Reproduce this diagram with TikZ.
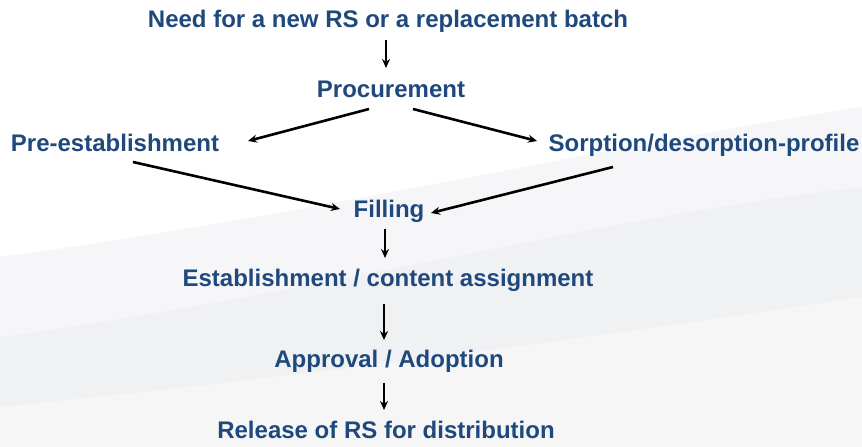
\documentclass[tikz,border=0pt]{standalone}
\usepackage{fontspec}
\setmainfont{Liberation Sans}
\usetikzlibrary{arrows.meta,positioning,calc}
\definecolor{stagetext}{RGB}{31,73,125}
\definecolor{swoosh}{RGB}{226,228,232}

\begin{document}
\begin{tikzpicture}[x=1pt,y=1pt,>=Stealth,
  stage/.style={anchor=base,inner sep=0pt,text=stagetext,
    font=\fontsize{24}{28}\selectfont\bfseries},
  flow/.style={->,line width=2.6pt,>={Stealth[length=9pt,width=8pt]}}]
  % background with the faint grey swoosh
  \fill[white] (0,0) rectangle (862,447);
  \fill[swoosh,opacity=0.3] (0,0) -- (0,190) .. controls (300,230) and (600,300) .. (862,340) -- (862,0) -- cycle;
  \fill[swoosh,opacity=0.25] (0,0) -- (0,110) .. controls (300,150) and (600,230) .. (862,260) -- (862,0) -- cycle;
  \fill[white,opacity=0.4] (0,0) -- (0,40) .. controls (300,70) and (600,110) .. (862,150) -- (862,0) -- cycle;
  \useasboundingbox (0,0) rectangle (862,447);

  % stages
  \node[stage] (need) at (388,419) {Need for a new RS or a replacement batch};
  \node[stage] (proc) at (391,349) {Procurement};
  \node[stage] (pre)  at (115,295) {Pre-establishment};
  \node[stage] (sorp) at (704,295) {Sorption/desorption-profile};
  \node[stage] (fill) at (389,229) {Filling};
  \node[stage] (est)  at (388,160) {Establishment / content assignment};
  \node[stage] (appr) at (389,79)  {Approval / Adoption};
  \node[stage] (rel)  at (386,9)   {Release of RS for distribution};

  % connectors
  \draw[flow] ($(need.base)+(-2,-12)$) -- ($(proc.base)+(-5,30)$);
  \draw[flow] ($(proc.base)+(-22,-11)$) -- ($(pre.base)+(133,11)$);
  \draw[flow] ($(proc.base)+(22,-11)$) -- ($(sorp.base)+(-167,11)$);
  \draw[flow] ($(pre.base)+(18,-10)$) -- ($(fill.base)+(-49,9)$);
  \draw[flow] ($(sorp.base)+(-91,-15)$) -- ($(fill.base)+(42,5)$);
  \draw[flow] ($(fill.base)+(-4,-11)$) -- ($(est.base)+(-3,29)$);
  \draw[flow] ($(est.base)+(-4,-17)$) -- ($(appr.base)+(-5,28)$);
  \draw[flow] ($(appr.base)+(-5,-15)$) -- ($(rel.base)+(-2,28)$);
\end{tikzpicture}
\end{document}
